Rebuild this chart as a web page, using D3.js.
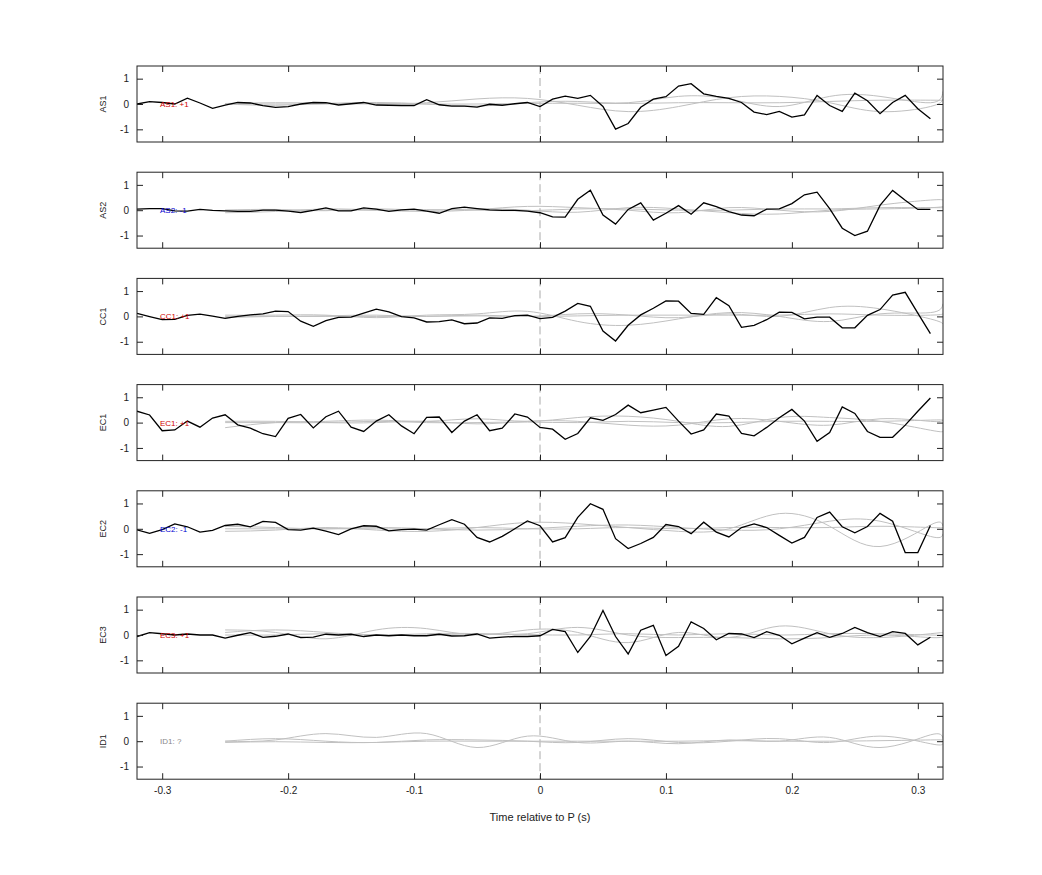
<!DOCTYPE html>
<html>
<head>
<meta charset="utf-8">
<script src="https://cdn.jsdelivr.net/npm/d3@7"></script>
<style>
  body { margin: 0; background: white; }
  text { font-family: "Liberation Sans", Arial, sans-serif; }
</style>
</head>
<body>
<div id="container"></div>
<script>
let w = 1042;
let h = 875;

// DATA
let stations = ["AS1", "AS2", "CC1", "EC1", "EC2", "EC3", "ID1"];
let polarity = ["+1", "-1", "+1", "+1", "-1", "+1", "?"];
let tickX = [-0.3, -0.2, -0.1, 0, 0.1, 0.2, 0.3];
let tickY = [-1, 0, 1];

// black trace sample times (0.01 s step)
let blackT = d3.range(64).map(i => Math.round((-0.32 + i * 0.01) * 100) / 100);

let blackAS1 = [0,0.09,0.06,0,0.23,0.04,-0.17,-0.04,0.06,0.04,-0.06,-0.13,-0.1,0,0.06,0.05,-0.04,0.01,0.06,-0.04,-0.05,-0.06,-0.06,0.17,-0.03,-0.08,-0.08,-0.12,-0.01,-0.05,0.01,0.06,
  -0.1,0.19,0.31,0.22,0.34,-0.1,-0.99,-0.77,-0.13,0.19,0.29,0.71,0.8,0.4,0.3,0.22,0.06,-0.32,-0.42,-0.29,-0.52,-0.43,0.34,-0.06,-0.29,0.43,0.13,-0.38,0.06,0.34,-0.19,-0.58];
let blackAS2 = [0.04,0.06,0.06,-0.03,-0.04,0.03,-0.01,-0.03,-0.05,-0.05,0,0,-0.04,-0.09,-0.01,0.09,-0.03,-0.03,0.09,0.04,-0.05,0.01,0.04,-0.04,-0.12,0.06,0.12,0.06,0.01,-0.01,-0.01,-0.04,
  -0.1,-0.26,-0.27,0.43,0.79,-0.19,-0.55,0.03,0.29,-0.39,-0.12,0.18,-0.16,0.29,0.14,-0.06,-0.19,-0.22,0.04,0.05,0.26,0.61,0.71,0.06,-0.71,-1.0,-0.83,0.19,0.78,0.39,0.03,0.03];
let blackCC1 = [0.12,-0.01,-0.13,-0.12,0.04,0.09,0.01,-0.08,0,0.06,0.1,0.21,0.19,-0.19,-0.39,-0.17,-0.04,-0.03,0.13,0.29,0.18,-0.01,-0.06,-0.22,-0.21,-0.14,-0.29,-0.26,-0.06,-0.08,0.03,0.05,
  -0.09,-0.04,0.21,0.51,0.4,-0.58,-0.97,-0.35,0.06,0.32,0.61,0.6,0.12,0.08,0.74,0.42,-0.43,-0.35,-0.13,0.17,0.16,-0.1,-0.03,-0.03,-0.45,-0.45,0.04,0.27,0.84,0.95,0.13,-0.68];
let blackEC1 = [0.45,0.3,-0.32,-0.29,0.06,-0.18,0.18,0.31,-0.09,-0.22,-0.44,-0.55,0.17,0.32,-0.21,0.23,0.45,-0.18,-0.35,0.06,0.31,-0.13,-0.44,0.21,0.22,-0.39,0.06,0.31,-0.32,-0.22,0.34,0.22,
  -0.19,-0.26,-0.66,-0.43,0.19,0.09,0.32,0.69,0.39,0.49,0.6,0.06,-0.45,-0.29,0.34,0.26,-0.43,-0.52,-0.19,0.19,0.52,0.06,-0.74,-0.39,0.62,0.36,-0.35,-0.58,-0.58,-0.1,0.45,0.97];
let blackEC2 = [-0.04,-0.18,-0.03,0.19,0.08,-0.13,-0.06,0.13,0.18,0.08,0.29,0.25,-0.03,-0.05,0.03,-0.09,-0.23,0,0.12,0.1,-0.08,-0.03,-0.01,-0.05,0.16,0.36,0.18,-0.34,-0.52,-0.3,0,0.31,
  0.12,-0.52,-0.35,0.45,0.99,0.77,-0.39,-0.78,-0.58,-0.34,0.17,0.09,-0.19,0.26,-0.13,-0.32,0.05,0.19,0.05,-0.26,-0.56,-0.34,0.45,0.66,0.08,-0.16,0.09,0.61,0.3,-0.94,-0.94,0.13];
let blackEC3 = [-0.06,0.09,0.05,0,0.04,0,0,-0.12,-0.01,0.09,-0.09,-0.05,0.04,-0.1,-0.08,0.03,0,0.03,-0.06,0,-0.03,0,-0.03,-0.03,0.03,-0.04,-0.03,0.04,-0.12,-0.08,-0.06,-0.06,
  -0.03,0.22,0.13,-0.69,-0.06,0.97,-0.06,-0.75,0.19,0.38,-0.81,-0.45,0.52,0.26,-0.19,0.06,0.04,-0.1,0.13,-0.01,-0.35,-0.12,0.09,-0.09,0.06,0.3,0.09,-0.06,0.13,0.06,-0.39,-0.09];
let blackSeries = [blackAS1, blackAS2, blackCC1, blackEC1, blackEC2, blackEC3, null];

// grey template traces (smooth)
let greyT = [-0.25,-0.21,-0.17,-0.13,-0.09,-0.05,-0.01,0.03,0.07,0.11,0.15,0.19,0.23,0.27,0.31,0.32];
let greyAS1 = [
  [0.02,0.05,0.03,0,0.05,0.2,0.22,-0.05,-0.3,-0.1,0.25,0.3,0.05,-0.3,-0.1,0.2],
  [0,-0.05,0.02,0.06,0,-0.08,0.05,0.1,0.05,0.3,0.2,-0.1,0.3,0.3,0.05,0.5],
  [0,0,0,0.02,0,0,0.02,0.03,0.02,0.05,0.05,0.05,0.1,0.15,0.15,0.15]];
let greyAS2 = [
  [-0.1,-0.05,0.05,0,-0.05,0.02,0.15,0.1,0.0,-0.1,0.1,0.0,-0.05,0.2,0.4,0.4],
  [0,0.03,-0.02,0.05,0,0.05,0,-0.08,0.1,0.05,-0.1,-0.15,0,0.05,0.1,0.15],
  [0,0,0,0,0.02,0,-0.02,0.05,0.05,0,0,0.05,0.05,0.1,0.1,0.1]];
let greyCC1 = [
  [0.05,0.05,0.05,-0.05,0.05,0.1,0.2,-0.2,-0.35,-0.1,0.15,0.0,-0.2,0.1,0.15,0.5],
  [-0.05,0,0.02,0.05,0,0.05,0,0.1,0.05,-0.05,0.1,0.0,0.35,0.3,-0.1,-0.3],
  [0,0,0,0,0,0.02,0,0.02,0.05,0.05,0.05,0.05,0.1,0.05,0.05,0.1]];
let greyEC1 = [
  [-0.2,0,0.05,0.1,0.05,0.15,0.05,0.2,0.25,0.05,-0.15,0.2,0.2,0.05,-0.3,-0.35],
  [0.05,0.05,0,0,0.05,-0.05,0.05,0.05,-0.1,-0.1,0.15,0.05,-0.1,0.15,0.05,0.1],
  [0,0,0,0.05,0,0,0.02,0,0.05,0,0,0.05,0.05,0.05,0.1,0.1]];
let greyEC2 = [
  [-0.1,-0.05,0.05,-0.05,-0.1,0.05,0.25,0.2,0.05,-0.1,0.0,0.6,0.1,-0.7,0.15,0.1],
  [0.1,0.05,0,0.05,0,-0.05,0,0.1,0.15,0.05,-0.05,0,0.3,0.3,-0.3,-0.2],
  [0,0,0,0,0,0.05,0,0,0.05,0,0.05,0.05,0.05,0.1,0.05,0.05]];
let greyEC3 = [
  [0.2,0.1,-0.15,0.2,0.25,0.0,0.2,0.1,-0.3,0.1,-0.1,0.35,0.05,-0.1,0.05,0.1],
  [0.1,0.2,0.1,0,0.05,0.05,0.05,0.3,0.0,-0.1,-0.1,-0.15,-0.1,0.0,-0.1,-0.05],
  [0,0,0.05,0,0,0.05,0.02,0,0.05,0,0.05,0,0.05,0.05,0,0]];
let greyID1 = [
  [0,0.05,0.3,0.15,0.3,-0.25,0.2,-0.05,0,-0.1,0.05,0.0,0.15,-0.25,0.25,0.1],
  [0,0.1,0,-0.05,0.05,0.05,0,-0.05,0.1,-0.05,0,0.1,-0.05,0.2,-0.1,-0.1],
  [-0.05,-0.02,-0.05,-0.05,0,0,0,0,0,0,0.02,0,0,0.02,0.05,0.05]];
let greySeries = [greyAS1, greyAS2, greyCC1, greyEC1, greyEC2, greyEC3, greyID1];

let labelColor = { "+1": "#d00000", "-1": "#0000d0", "?": "#888888" };

// LAYOUT
let left = 137, right = 943;
let panelTop = 66, panelH = 76, stride = 106.2;

let viz = d3.select("#container").append("svg")
    .attr("width", w)
    .attr("height", h)
    .style("background-color", "white");

let x = d3.scaleLinear().domain([-0.32, 0.32]).range([left, right]);
let y = d3.scaleLinear().domain([-1.5, 1.5]).range([panelH, 0]);

let plainFmt = d => String(d);

let lineMaker = d3.line().x(d => x(d[0])).y(d => y(d[1]));
let smoothMaker = d3.line().x(d => x(d[0])).y(d => y(d[1])).curve(d3.curveNatural);

stations.forEach(function(st, i) {
  let g = viz.append("g").attr("transform", "translate(0," + (panelTop + i * stride) + ")");

  let clipId = "clip" + i;
  g.append("clipPath").attr("id", clipId).append("rect")
    .attr("x", left).attr("y", 0).attr("width", right - left).attr("height", panelH);

  let plot = g.append("g").attr("clip-path", "url(#" + clipId + ")");

  // zero-time marker
  plot.append("line")
    .attr("x1", x(0)).attr("x2", x(0)).attr("y1", 0).attr("y2", panelH)
    .attr("stroke", "#aaaaaa").attr("stroke-width", 1).attr("stroke-dasharray", "8,4");

  greySeries[i].forEach(function(s) {
    plot.append("path")
      .datum(greyT.map((t, k) => [t, s[k]]))
      .attr("d", smoothMaker)
      .attr("fill", "none").attr("stroke", "#c0c0c0").attr("stroke-width", 1);
  });

  if (blackSeries[i]) {
    plot.append("path")
      .datum(blackT.map((t, k) => [t, blackSeries[i][k]]))
      .attr("d", lineMaker)
      .attr("fill", "none").attr("stroke", "black").attr("stroke-width", 1.3);
  }

  // axes, ticks inward
  g.append("g").attr("transform", "translate(0," + panelH + ")")
    .call(d3.axisBottom(x).tickValues(tickX).tickSizeInner(-6).tickSizeOuter(0)
      .tickFormat(i == stations.length - 1 ? plainFmt : ""))
    .call(a => a.selectAll("text").attr("dy", "1.2em"));
  g.append("g")
    .call(d3.axisTop(x).tickValues(tickX).tickSizeInner(-6).tickSizeOuter(0).tickFormat(""));
  g.append("g").attr("transform", "translate(" + left + ",0)")
    .call(d3.axisLeft(y).tickValues(tickY).tickSizeInner(-6).tickSizeOuter(0).tickFormat(plainFmt))
    .call(a => a.selectAll("text").attr("dx", "-0.5em"));
  g.append("g").attr("transform", "translate(" + right + ",0)")
    .call(d3.axisRight(y).tickValues(tickY).tickSizeInner(-6).tickSizeOuter(0).tickFormat(""));

  g.selectAll(".domain").remove();
  g.selectAll(".tick line").attr("stroke", "#222");
  g.selectAll(".tick text").attr("font-size", 10).attr("fill", "#222")
    .style("font-family", "Liberation Sans, Arial, sans-serif");

  g.append("rect")
    .attr("x", left).attr("y", 0).attr("width", right - left).attr("height", panelH)
    .attr("fill", "none").attr("stroke", "#222").attr("stroke-width", 1);

  g.append("text")
    .attr("transform", "translate(106," + (panelH / 2) + ") rotate(-90)")
    .attr("text-anchor", "middle").attr("font-size", 9).attr("fill", "#222")
    .text(st);

  g.append("text")
    .attr("x", 160).attr("y", y(0) + 3)
    .attr("font-size", 8).attr("fill", labelColor[polarity[i]])
    .text(st + ": " + polarity[i]);
});

viz.append("text")
  .attr("x", (left + right) / 2).attr("y", 821)
  .attr("text-anchor", "middle").attr("font-size", 11).attr("fill", "#222")
  .text("Time relative to P (s)");
</script>
</body>
</html>
